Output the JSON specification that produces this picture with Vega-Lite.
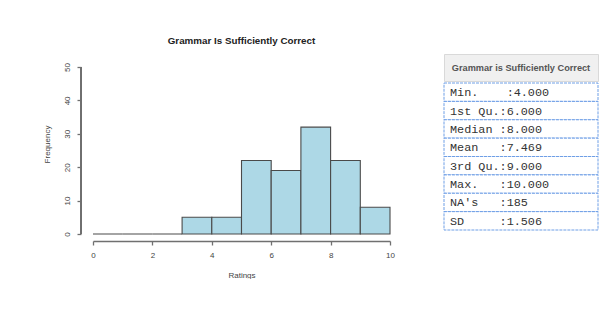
{
  "$schema": "https://vega.github.io/schema/vega-lite/v6.json",
  "background": "white",
  "padding": {"left": 43, "top": 36, "right": 0, "bottom": 0},
  "config": {
    "view": {"stroke": null},
    "font": "Liberation Sans",
    "axis": {
      "grid": false,
      "domainColor": "#707070",
      "domainWidth": 1.3,
      "tickColor": "#707070",
      "tickWidth": 1.3,
      "labelColor": "#444444",
      "titleColor": "#444444",
      "labelFont": "Liberation Sans",
      "titleFont": "Liberation Sans",
      "labelFontSize": 8,
      "titleFontSize": 8,
      "titleFontWeight": "normal",
      "labelOverlap": false,
      "labelFlush": false,
      "tickSize": 4,
      "offset": 7
    },
    "axisX": {
      "labelPadding": 6,
      "titlePadding": 12
    },
    "axisY": {
      "domain": false,
      "offset": 12,
      "labelAngle": -90,
      "labelAlign": "center",
      "labelBaseline": "bottom",
      "labelPadding": 6,
      "titlePadding": 12
    }
  },
  "spacing": 48,
  "hconcat": [
    {
      "title": {
        "text": "Grammar Is Sufficiently Correct",
        "font": "Liberation Sans",
        "fontSize": 9.8,
        "fontWeight": "bold",
        "color": "#222222",
        "anchor": "middle",
        "offset": 8
      },
      "width": 297,
      "height": 180,
      "data": {
        "values": [
          {"bin_start": 0, "bin_end": 1, "count": 0},
          {"bin_start": 1, "bin_end": 2, "count": 0},
          {"bin_start": 2, "bin_end": 3, "count": 0},
          {"bin_start": 3, "bin_end": 4, "count": 5},
          {"bin_start": 4, "bin_end": 5, "count": 5},
          {"bin_start": 5, "bin_end": 6, "count": 22},
          {"bin_start": 6, "bin_end": 7, "count": 19},
          {"bin_start": 7, "bin_end": 8, "count": 32},
          {"bin_start": 8, "bin_end": 9, "count": 22},
          {"bin_start": 9, "bin_end": 10, "count": 8}
        ]
      },
      "layer": [
        {
          "mark": {"type": "rect", "fill": "#add8e6", "stroke": "#4a4a4a", "strokeWidth": 1.1},
          "encoding": {
            "x": {
              "field": "bin_start",
              "type": "quantitative",
              "scale": {"domain": [0, 10], "nice": false},
              "axis": {"title": "Ratings", "values": [0, 2, 4, 6, 8, 10]}
            },
            "x2": {"field": "bin_end"},
            "y": {
              "field": "count",
              "type": "quantitative",
              "scale": {"domain": [0, 53.9], "nice": false, "zero": true},
              "axis": {"title": "Frequency", "values": [0, 10, 20, 30, 40, 50]}
            },
            "y2": {"datum": 0}
          }
        },
        {
          "mark": {"type": "rule", "color": "#707070", "strokeWidth": 1.3, "xOffset": -12},
          "encoding": {
            "x": {"datum": 0, "type": "quantitative", "axis": {"title": "Ratings", "values": [0, 2, 4, 6, 8, 10]}},
            "y": {"datum": 0, "type": "quantitative", "axis": {"title": "Frequency", "values": [0, 10, 20, 30, 40, 50]}},
            "y2": {"datum": 50}
          }
        }
      ]
    },
    {
      "spacing": 0,
      "vconcat": [
        {
          "width": 154,
          "height": 27,
          "view": {"fill": "#f0f0f0", "stroke": "#d9d9d9"},
          "data": {"values": [{"header": "Grammar is Sufficiently Correct"}]},
          "mark": {"type": "text", "font": "Liberation Sans", "fontWeight": "bold", "fontSize": 9.2, "color": "#555555"},
          "encoding": {"text": {"field": "header"}}
        },
        {
          "width": 154,
          "height": 147,
          "data": {
            "values": [
              {"row": "Min.", "line": "Min.\u00a0\u00a0\u00a0\u00a0:4.000"},
              {"row": "1st Qu.", "line": "1st\u00a0Qu.:6.000"},
              {"row": "Median", "line": "Median\u00a0:8.000"},
              {"row": "Mean", "line": "Mean\u00a0\u00a0\u00a0:7.469"},
              {"row": "3rd Qu.", "line": "3rd\u00a0Qu.:9.000"},
              {"row": "Max.", "line": "Max.\u00a0\u00a0\u00a0:10.000"},
              {"row": "NA's", "line": "NA's\u00a0\u00a0\u00a0:185"},
              {"row": "SD", "line": "SD\u00a0\u00a0\u00a0\u00a0\u00a0:1.506"}
            ]
          },
          "encoding": {
            "y": {
              "field": "row",
              "type": "nominal",
              "sort": null,
              "scale": {"paddingInner": 0, "paddingOuter": 0},
              "axis": null
            }
          },
          "layer": [
            {
              "mark": {"type": "rect", "fill": "white", "stroke": "#6f9fe6", "strokeWidth": 1, "strokeDash": [3, 1]}
            },
            {
              "mark": {"type": "text", "align": "left", "font": "Liberation Mono", "fontSize": 11.8, "color": "#333333", "dx": 6},
              "encoding": {
                "x": {"datum": 0, "type": "quantitative", "scale": {"domain": [0, 1]}, "axis": null},
                "text": {"field": "line"}
              }
            }
          ]
        }
      ]
    }
  ]
}
